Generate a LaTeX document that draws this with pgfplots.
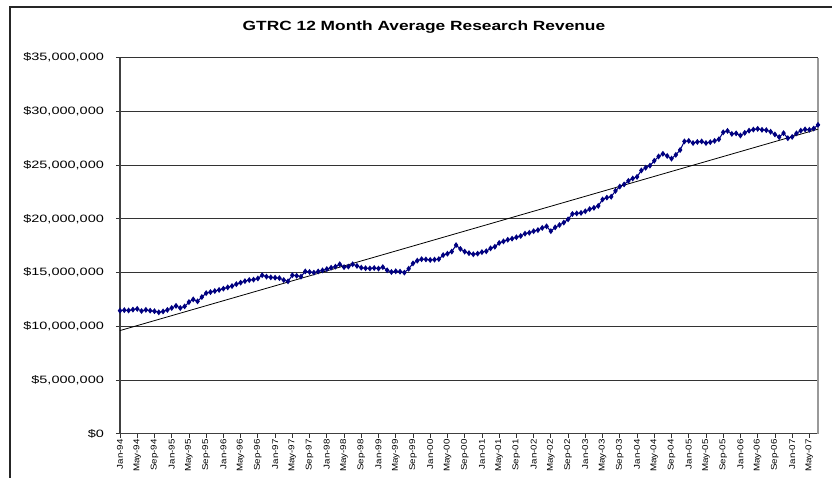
\documentclass[border=0pt]{standalone}
\usepackage{pgfplots}
\pgfplotsset{compat=1.18}
\usepackage{fontspec}
\setmainfont{Liberation Sans}
\newfontfamily\ylabfont[FakeStretch=1.36]{Liberation Sans}
\newfontfamily\xlabfont[FakeStretch=1.16]{Liberation Sans}
\newfontfamily\titlefont[FakeStretch=1.3]{Liberation Sans}
\definecolor{navy}{HTML}{000080}
\begin{document}
\begin{tikzpicture}
\begin{axis}[
  at={(0,0)}, anchor=south west,
  scale only axis, width=523.5pt, height=282.1pt,
  xmin=0, xmax=162, ymin=0, ymax=35,
  axis lines*=left,
  axis line style={draw=black!75, line width=0.9pt},
  tick align=outside,
  major tick length=3pt,
  tick style={black!80, line width=0.6pt},
  ymajorgrids, grid style={black!80, line width=0.6pt},
  ytick={0,5,10,15,20,25,30,35},
  yticklabels={\$0,{\$5,000,000},{\$10,000,000},{\$15,000,000},{\$20,000,000},{\$25,000,000},{\$30,000,000},{\$35,000,000}},
  yticklabel style={font=\ylabfont\fontsize{8pt}{9pt}\selectfont, xshift=-5.5pt},
  xtick={0,4,...,160},
  xticklabels={Jan-94,May-94,Sep-94,Jan-95,May-95,Sep-95,Jan-96,May-96,Sep-96,Jan-97,May-97,Sep-97,Jan-98,May-98,Sep-98,Jan-99,May-99,Sep-99,Jan-00,May-00,Sep-00,Jan-01,May-01,Sep-01,Jan-02,May-02,Sep-02,Jan-03,May-03,Sep-03,Jan-04,May-04,Sep-04,Jan-05,May-05,Sep-05,Jan-06,May-06,Sep-06,Jan-07,May-07},
  xticklabel style={font=\xlabfont\fontsize{6.3pt}{7pt}\selectfont, rotate=90, anchor=east, inner sep=1pt},
  clip=false,
]
\draw[black!40, line width=1.4pt] (rel axis cs:1,0) -- (rel axis cs:1,1);
\addplot[navy, line width=0.8pt, mark=diamond*, mark size=1.6pt, mark options={fill=navy}] coordinates {
(0,11.45) (1,11.50) (2,11.47) (3,11.55) (4,11.62) (5,11.42) (6,11.53) (7,11.45) (8,11.40) (9,11.30)
(10,11.38) (11,11.52) (12,11.70) (13,11.90) (14,11.70) (15,11.85) (16,12.25) (17,12.50) (18,12.32) (19,12.72)
(20,13.08) (21,13.18) (22,13.28) (23,13.38) (24,13.50) (25,13.62) (26,13.74) (27,13.92) (28,14.06) (29,14.20)
(30,14.30) (31,14.34) (32,14.45) (33,14.75) (34,14.62) (35,14.55) (36,14.52) (37,14.48) (38,14.30) (39,14.18)
(40,14.75) (41,14.70) (42,14.62) (43,15.10) (44,15.05) (45,14.99) (46,15.10) (47,15.20) (48,15.32) (49,15.45)
(50,15.55) (51,15.77) (52,15.50) (53,15.55) (54,15.77) (55,15.62) (56,15.45) (57,15.40) (58,15.38) (59,15.42)
(60,15.37) (61,15.50) (62,15.21) (63,15.05) (64,15.12) (65,15.08) (66,14.99) (67,15.35) (68,15.85) (69,16.10)
(70,16.24) (71,16.22) (72,16.17) (73,16.20) (74,16.25) (75,16.62) (76,16.75) (77,16.95) (78,17.55) (79,17.20)
(80,16.95) (81,16.80) (82,16.70) (83,16.76) (84,16.90) (85,16.98) (86,17.25) (87,17.40) (88,17.75) (89,17.90)
(90,18.05) (91,18.15) (92,18.28) (93,18.40) (94,18.62) (95,18.70) (96,18.85) (97,18.95) (98,19.15) (99,19.30)
(100,18.85) (101,19.20) (102,19.42) (103,19.65) (104,19.95) (105,20.45) (106,20.50) (107,20.55) (108,20.70) (109,20.90)
(110,21.02) (111,21.20) (112,21.80) (113,21.97) (114,22.05) (115,22.60) (116,23.00) (117,23.20) (118,23.53) (119,23.75)
(120,23.90) (121,24.50) (122,24.75) (123,24.95) (124,25.40) (125,25.80) (126,26.05) (127,25.85) (128,25.60) (129,25.95)
(130,26.40) (131,27.20) (132,27.25) (133,27.05) (134,27.15) (135,27.20) (136,27.05) (137,27.13) (138,27.25) (139,27.40)
(140,28.05) (141,28.18) (142,27.90) (143,27.95) (144,27.75) (145,28.00) (146,28.20) (147,28.30) (148,28.37) (149,28.28)
(150,28.25) (151,28.10) (152,27.85) (153,27.60) (154,27.97) (155,27.50) (156,27.62) (157,27.95) (158,28.20) (159,28.32)
(160,28.28) (161,28.40) (162,28.74)
};
\addplot[black, line width=0.6pt] coordinates {(0,9.6) (162,28.34)};
\end{axis}
\node[font=\titlefont\bfseries\fontsize{10pt}{12pt}\selectfont] at (228pt,305pt) {GTRC 12 Month Average Research Revenue};
\draw[black!85, line width=1.1pt] (540pt,320pt) -- (-82.5pt,320pt) -- (-82.5pt,-40pt);
\pgfresetboundingbox
\useasboundingbox (-90pt,-33.2pt) rectangle (534pt,325.3pt);
\end{tikzpicture}
\end{document}
